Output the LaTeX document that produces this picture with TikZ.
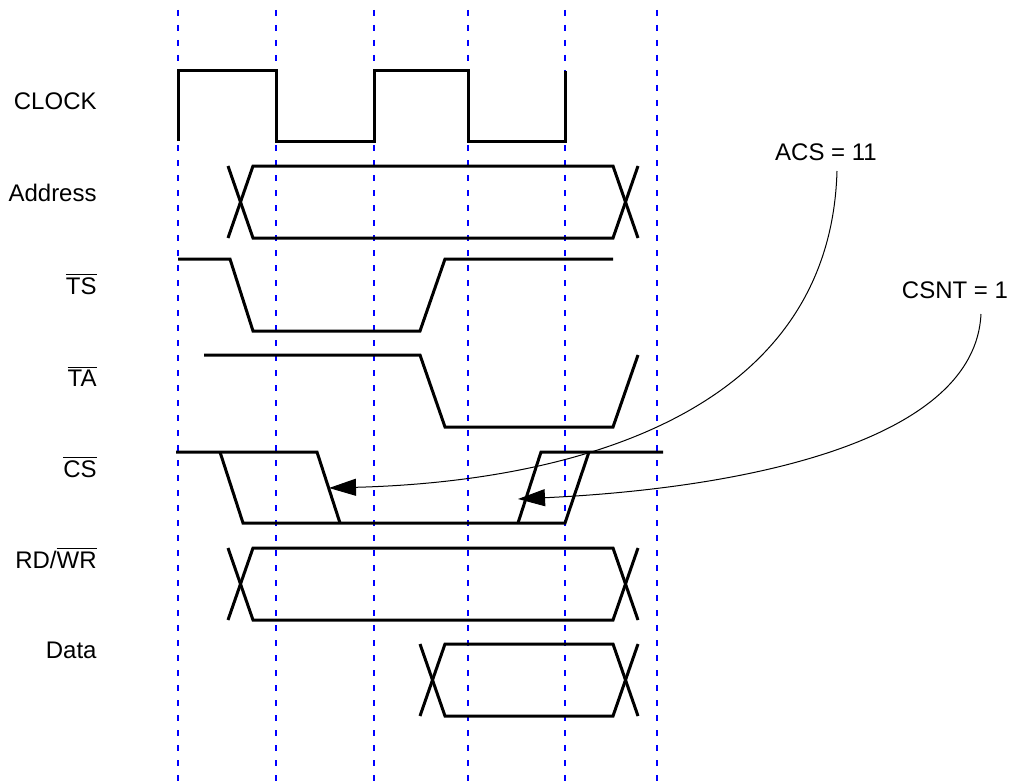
\documentclass[tikz,border=0pt]{standalone}
\usepackage{fontspec}
\setmainfont{Liberation Sans}
\usetikzlibrary{arrows.meta}
\newcommand{\ovl}[1]{$\overline{\mbox{#1}}$}

\begin{document}
\begin{tikzpicture}[x=0.5pt, y=-0.5pt,
    wave/.style={line width=1.5pt, line join=miter},
    grid/.style={blue, line width=1pt, dash pattern=on 3pt off 4.5pt},
    callout/.style={line width=0.5pt, -{Triangle[length=13.5pt,width=8.5pt]}},
    sig/.style={anchor=east, inner sep=0pt, font=\fontsize{12pt}{14pt}\selectfont},
    note/.style={font=\fontsize{12pt}{14pt}\selectfont}]
    \useasboundingbox (0,0) rectangle (1011,781);

    % clock edges
    \foreach \x in {178,276,374,468,565,657}
        \draw[grid] (\x,10) -- (\x,781);

    % signal names
    \node[sig] (clk) at (97,101) {CLOCK};
    \node[sig] (addr) at (97,193) {Address};
    \node[sig] (ts) at (97,284) {\ovl{TS}};
    \node[sig] (ta) at (97,376) {\ovl{TA}};
    \node[sig] (cs) at (97,467) {\ovl{CS}};
    \node[sig] (rdwr) at (97,558) {RD/\ovl{WR}};
    \node[sig] (data) at (97,650) {Data};

    % waveforms
    \draw[wave] (178,141) -- (178,71) -- (276,71) -- (276,141) -- (374,141)
        -- (374,71) -- (468,71) -- (468,141) -- (565,141) -- (565,71);
    \foreach \xl/\xr/\yt in {228/613/166, 228/613/548, 420/613/644} {
        \draw[wave] (\xl,\yt) -- (\xl+25,\yt+72) -- (\xr,\yt+72) -- (\xr+25,\yt);
        \draw[wave] (\xl,\yt+72) -- (\xl+25,\yt) -- (\xr,\yt) -- (\xr+25,\yt+72);
    }
    \draw[wave] (178,259) -- (230,259) -- (253,331) -- (420,331) -- (445,259) -- (613,259);
    \draw[wave] (204,355) -- (420,355) -- (445,427) -- (613,427) -- (638,355);
    \draw[wave] (176,452) -- (317,452) -- (340,523);
    \draw[wave] (220,452) -- (243,523) -- (565,523) -- (589,452);
    \draw[wave] (518,523) -- (541,452) -- (663,452);

    % timing notes
    \node[note] (acs) at (826,152) {ACS = 11};
    \node[note] (csnt) at (955,290) {CSNT = 1};
    \coordinate (acsfoot) at (837,171);
    \coordinate (csntfoot) at (981,314);
    \coordinate (acstip) at (329,488);
    \coordinate (csnttip) at (518,499);
    \draw[callout] (acsfoot) .. controls (830,420) and (560,482) .. (acstip);
    \draw[callout] (csntfoot) .. controls (975,440) and (750,488) .. (csnttip);
\end{tikzpicture}
\end{document}
